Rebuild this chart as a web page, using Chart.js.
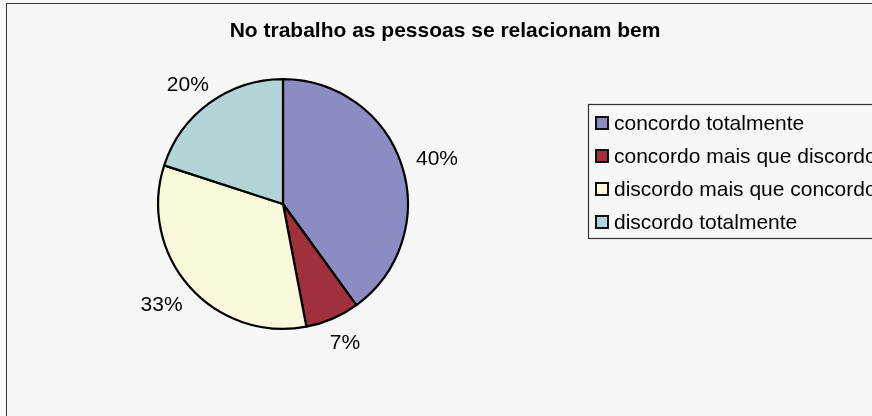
<!DOCTYPE html>
<html>
<head>
<meta charset="utf-8">
<script src="https://cdn.jsdelivr.net/npm/chart.js@4"></script>
<style>
  body { margin: 0; background: #f6f8f8; }
  #wrap { position: relative; width: 872px; height: 416px; overflow: hidden; }
  #frame { position: absolute; left: 6px; top: 3px; width: 900px; height: 440px;
           border-left: 1.5px solid #333; border-top: 1.5px solid #333; box-sizing: border-box; }
  canvas { position: absolute; left: 0; top: 0; }
</style>
</head>
<body>
<div id="wrap">
  <div id="frame"></div>
  <canvas id="pie" width="872" height="416"></canvas>
</div>
<script>
const titleText = 'No trabalho as pessoas se relacionam bem';
const categories = ['concordo totalmente', 'concordo mais que discordo', 'discordo mais que concordo', 'discordo totalmente'];
const values = [40, 7, 33, 20];
const colors = ['#8b8cc3', '#a0303c', '#fbf9dc', '#b2d4d7'];

const FONT = '"Liberation Sans", Arial, sans-serif';

// title, legend box and outside percentage labels
const extras = {
  id: 'extras',
  afterDraw(chart) {
    const ctx = chart.ctx;
    ctx.save();
    ctx.fillStyle = '#000';
    ctx.font = 'bold 21px ' + FONT;
    ctx.textAlign = 'center';
    ctx.textBaseline = 'middle';
    ctx.fillText(titleText, 445, 31);

    // labels outside slices: box sits just off the edge
    const meta = chart.getDatasetMeta(0);
    const total = values.reduce((a, b) => a + b, 0);
    ctx.font = '21px ' + FONT;
    meta.data.forEach((arc, i) => {
      const txt = Math.round(values[i] / total * 100) + '%';
      const w = ctx.measureText(txt).width;
      const h = 18;
      const mid = (arc.startAngle + arc.endAngle) / 2;
      const cx = Math.cos(mid), cy = Math.sin(mid);
      const r = arc.outerRadius + 16;
      const x = arc.x + cx * r + cx * w / 2;
      const y = arc.y + cy * r + cy * h / 2;
      ctx.fillText(txt, x, y + 2);
    });

    // legend
    ctx.strokeStyle = '#333';
    ctx.lineWidth = 1.2;
    ctx.strokeRect(588.5, 104.5, 400, 134);
    ctx.textAlign = 'left';
    categories.forEach((c, i) => {
      const y = 123 + i * 33;
      ctx.fillStyle = colors[i];
      ctx.fillRect(596, y - 6, 12, 12);
      ctx.lineWidth = 2;
      ctx.strokeStyle = '#111';
      ctx.strokeRect(596, y - 6, 12, 12);
      ctx.fillStyle = '#000';
      ctx.fillText(c, 614, y + 1);
    });
    ctx.restore();
  }
};

new Chart(document.getElementById('pie'), {
  type: 'pie',
  data: {
    labels: categories,
    datasets: [{
      data: values,
      backgroundColor: colors,
      borderColor: '#000',
      borderWidth: 2.2
    }]
  },
  options: {
    responsive: false,
    animation: false,
    layout: { padding: { left: 157, right: 463, top: 78, bottom: 86 } },
    plugins: {
      legend: { display: false },
      title: { display: false },
      tooltip: { enabled: false }
    }
  },
  plugins: [extras]
});
</script>
</body>
</html>
